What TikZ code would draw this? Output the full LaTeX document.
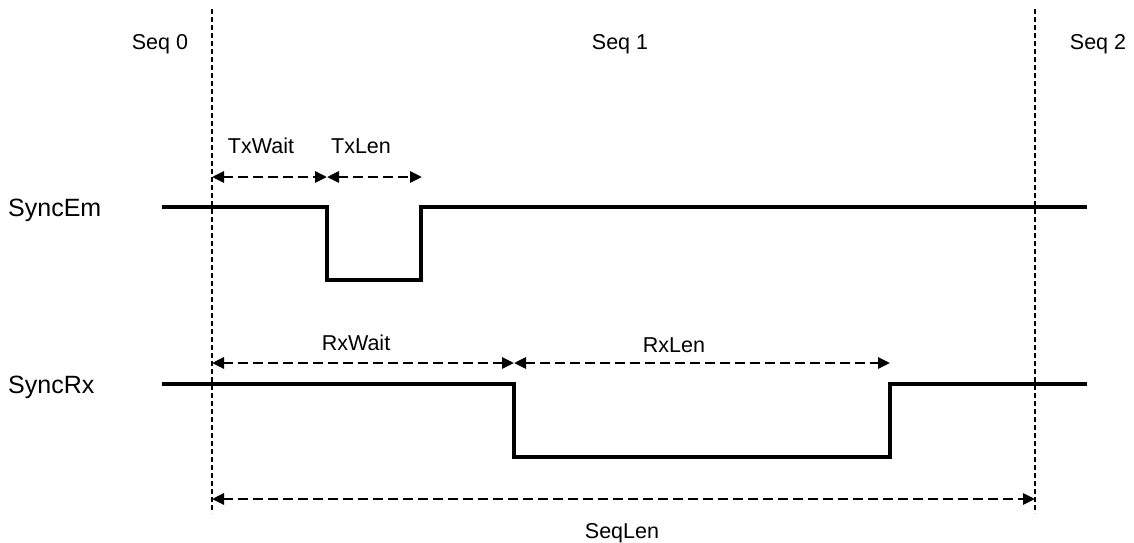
\documentclass[tikz,border=0pt]{standalone}
\usepackage{fontspec}
\setmainfont{Liberation Sans}
\usetikzlibrary{arrows.meta}
\begin{document}
\begin{tikzpicture}[x=1pt,y=-1pt,
  lbl/.style={inner sep=0pt,anchor=base,font=\fontsize{21.5}{24}\selectfont},
  sig/.style={inner sep=0pt,anchor=base west,font=\fontsize{25}{28}\selectfont},
  wave/.style={line width=4pt,line join=miter,line cap=butt},
  seqline/.style={line width=2.2pt,dash pattern=on 5pt off 3pt},
  dim/.style={line width=2.8pt,dash pattern=on 10pt off 5pt,
    {Triangle[length=12pt,width=11pt]}-{Triangle[length=12pt,width=11pt]}}]
\useasboundingbox (0,0) rectangle (1134,542);
% sequence boundaries
\coordinate (b0t) at (212,9);
\coordinate (b0b) at (212,513);
\coordinate (b1t) at (1035,9);
\coordinate (b1b) at (1035,513);
\draw[seqline] (b0t) -- (b0b);
\draw[seqline] (b1t) -- (b1b);
% sequence labels
\node[lbl] (seq0) at (160,49) {Seq 0};
\node[lbl] (seq1) at (620,49) {Seq 1};
\node[lbl] (seq2) at (1098,49) {Seq 2};
% signal names
\node[sig] (em) at (8,216) {SyncEm};
\node[sig] (rx) at (8,393) {SyncRx};
% SyncEm waveform
\draw[wave] (162,207) -- (327,207) -- (327,280) -- (421,280) -- (421,207) -- (1087,207);
% SyncRx waveform
\draw[wave] (162,384) -- (514,384) -- (514,457) -- (890,457) -- (890,384) -- (1087,384);
% dimension points
\coordinate (tw0) at (212,177);
\coordinate (tw1) at (327,177);
\coordinate (tl1) at (422,177);
\coordinate (rw0) at (212,363);
\coordinate (rw1) at (514,363);
\coordinate (rl1) at (890,363);
\coordinate (sl0) at (212,499);
\coordinate (sl1) at (1035,499);
\draw[dim] (tw0) -- (tw1);
\draw[dim] (tw1) -- (tl1);
\draw[dim] (rw0) -- (rw1);
\draw[dim] (rw1) -- (rl1);
\draw[dim] (sl0) -- (sl1);
% dimension labels
\node[lbl] (txwait) at (261,153) {TxWait};
\node[lbl] (txlen) at (361,153) {TxLen};
\node[lbl] (rxwait) at (356,350) {RxWait};
\node[lbl] (rxlen) at (674,352) {RxLen};
\node[lbl] (seqlen) at (622,538) {SeqLen};
\end{tikzpicture}
\end{document}
